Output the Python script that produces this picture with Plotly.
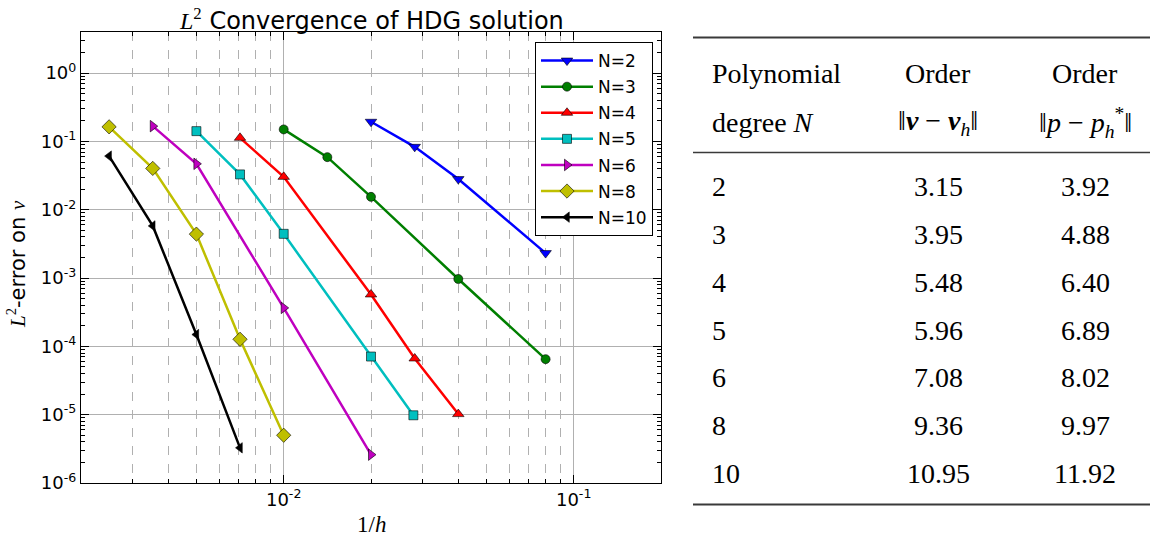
import math
import plotly.graph_objects as go

# ---------------- data ----------------
labels = ["N=2", "N=3", "N=4", "N=5", "N=6", "N=8", "N=10"]
x_N2 = [0.02, 0.0283, 0.04, 0.08]
y_N2 = [0.194, 0.0834, 0.0281, 0.00232]
x_N3 = [0.01, 0.01414, 0.02, 0.04, 0.08]
y_N3 = [0.150, 0.0589, 0.01545, 0.00097, 6.5e-5]
x_N4 = [0.00707, 0.01, 0.02, 0.0283, 0.04]
y_N4 = [0.113, 0.0303, 5.75e-4, 6.65e-5, 1.02e-5]
x_N5 = [0.005, 0.00707, 0.01, 0.02, 0.028]
y_N5 = [0.1415, 0.0329, 0.00444, 7.1e-5, 9.8e-6]
x_N6 = [0.003536, 0.005, 0.01, 0.02]
y_N6 = [0.1675, 0.047, 3.66e-4, 2.6e-6]
x_N8 = [0.0025, 0.003536, 0.005, 0.00707, 0.01]
y_N8 = [0.1636, 0.0403, 0.0044, 1.27e-4, 5.0e-6]
x_N10 = [0.0025, 0.003536, 0.005, 0.00707]
y_N10 = [0.061, 0.0058, 1.49e-4, 3.27e-6]

table_degree = ["2", "3", "4", "5", "6", "8", "10"]
table_order_v = ["3.15", "3.95", "5.48", "5.96", "7.08", "9.36", "10.95"]
table_order_p = ["3.92", "4.88", "6.40", "6.89", "8.02", "9.97", "11.92"]

x_ticks = [0.01, 0.1]
x_ticktext = ["10<sup>-2</sup>", "10<sup>-1</sup>"]
y_ticks = [1, 0.1, 0.01, 0.001, 1e-4, 1e-5, 1e-6]
y_ticktext = ["10<sup>0</sup>", "10<sup>-1</sup>", "10<sup>-2</sup>", "10<sup>-3</sup>",
              "10<sup>-4</sup>", "10<sup>-5</sup>", "10<sup>-6</sup>"]

# ---------------- styles ----------------
series = [
    (x_N2, y_N2, "#0000ff", "triangle-down", 10),
    (x_N3, y_N3, "#007f00", "circle", 9),
    (x_N4, y_N4, "#ff0000", "triangle-up", 10),
    (x_N5, y_N5, "#00bfbf", "square", 9),
    (x_N6, y_N6, "#bf00bf", "triangle-right", 10),
    (x_N8, y_N8, "#bfbf00", "diamond", 11),
    (x_N10, y_N10, "#000000", "triangle-left", 9),
]

SANS = "DejaVu Sans"
SERIF = "Liberation Serif"

W, H = 1150, 537
PL, PR, PT, PB = 81, 661, 32, 483


def px_x(px):
    return (px - PL) / (PR - PL)


def px_y(py):
    return (PB - py) / (PB - PT)


fig = go.Figure()
for i, (xs, ys, col, sym, sz) in enumerate(series):
    fig.add_trace(go.Scatter(
        x=xs, y=ys, mode="lines+markers", name=labels[i],
        legendgroup=labels[i],
        line=dict(color=col, width=2.5),
        marker=dict(symbol=sym, size=sz, color=col,
                    line=dict(color="#000000", width=0.6)),
    ))

grid_col = "#b0b0b0"
x_minor = [m * 10 ** e for e in (-3, -2, -1) for m in range(2, 10)]
y_minor = [m * 10 ** e for e in range(-6, 1) for m in range(2, 10)]

fig.update_xaxes(
    type="log", range=[math.log10(0.002), math.log10(0.2)],
    tickmode="array", tickvals=x_ticks, ticktext=x_ticktext,
    ticks="inside", ticklen=8, tickcolor="#000000", tickwidth=1,
    showline=True, linecolor="#000000", linewidth=1.2, mirror="allticks",
    showgrid=True, gridcolor=grid_col, gridwidth=1,
    tickfont=dict(family=SANS, size=18, color="#000000"),
    minor=dict(tickmode="array", tickvals=x_minor, ticks="inside", ticklen=4,
               tickcolor="#000000", showgrid=True, gridcolor=grid_col,
               griddash="dash", gridwidth=1),
    zeroline=False,
)
fig.update_yaxes(
    type="log", range=[-6, math.log10(4)],
    tickmode="array", tickvals=y_ticks, ticktext=y_ticktext,
    ticks="inside", ticklen=8, tickcolor="#000000", tickwidth=1,
    showline=True, linecolor="#000000", linewidth=1.2, mirror="allticks",
    showgrid=True, gridcolor=grid_col, gridwidth=1,
    tickfont=dict(family=SANS, size=18, color="#000000"),
    minor=dict(tickmode="array", tickvals=y_minor, ticks="inside", ticklen=4,
               tickcolor="#000000", showgrid=False),
    zeroline=False,
)

ann = []
# title
ann.append(dict(
    x=px_x(371), y=px_y(19), xref="paper", yref="paper", showarrow=False,
    xanchor="center", yanchor="middle",
    text=f"<span style='font-family:{SERIF}'><i>L</i><sup>2</sup></span> Convergence of HDG solution",
    font=dict(family=SANS, size=24, color="#000000")))
# x title
ann.append(dict(
    x=px_x(371), y=px_y(524), xref="paper", yref="paper", showarrow=False,
    xanchor="center", yanchor="middle",
    text="1/<i>h</i>", font=dict(family=SERIF, size=23, color="#000000")))
# y title
ann.append(dict(
    x=px_x(16), y=px_y(264), xref="paper", yref="paper", showarrow=False,
    xanchor="center", yanchor="middle", textangle=-90,
    text=f"<span style='font-family:{SERIF}'><i>L</i><sup>2</sup></span>-error on <span style='font-family:{SERIF}'><i>v</i></span>",
    font=dict(family=SANS, size=21, color="#000000")))

# ---------------- table ----------------
TF = dict(family=SERIF, size=28, color="#000000")
col1_x, col2_x, col3_x = 710, 938, 1085
ann.append(dict(x=px_x(col1_x), y=px_y(73), text="Polynomial", xanchor="left"))
ann.append(dict(x=px_x(col1_x), y=px_y(122), text="degree <i>N</i>", xanchor="left"))
ann.append(dict(x=px_x(col2_x), y=px_y(73), text="Order", xanchor="center"))
ann.append(dict(x=px_x(col3_x), y=px_y(73), text="Order", xanchor="center"))
ann.append(dict(x=px_x(col2_x), y=px_y(122),
                text="‖<b><i>v</i></b> − <b><i>v</i></b><sub><i>h</i></sub>‖", xanchor="center"))
ann.append(dict(x=px_x(col3_x), y=px_y(122),
                text="‖<i>p</i> − <i>p</i><sub><i>h</i></sub><sup>*</sup>‖", xanchor="center"))
row_y0, row_dy = 186.7, 47.8
for i in range(len(table_degree)):
    yy = px_y(row_y0 + i * row_dy)
    ann.append(dict(x=px_x(col1_x), y=yy, text=table_degree[i], xanchor="left"))
    ann.append(dict(x=px_x(col2_x), y=yy, text=table_order_v[i], xanchor="center"))
    ann.append(dict(x=px_x(col3_x), y=yy, text=table_order_p[i], xanchor="center"))

for a in ann[3:]:
    a.update(xref="paper", yref="paper", showarrow=False, yanchor="middle", font=TF)

shapes = []
for (yy, wd) in [(37.5, 2), (152.5, 1.5), (504.5, 2)]:
    shapes.append(dict(type="line", xref="paper", yref="paper",
                       x0=px_x(693), x1=px_x(1150), y0=px_y(yy), y1=px_y(yy),
                       line=dict(color="#3a3a3a", width=wd)))

fig.update_layout(
    width=W, height=H,
    margin=dict(l=PL, r=W - PR, t=PT, b=H - PB, pad=0),
    paper_bgcolor="#ffffff", plot_bgcolor="#ffffff",
    annotations=ann, shapes=shapes,
    showlegend=True,
    legend=dict(
        x=px_x(653), y=px_y(42), xanchor="right", yanchor="top",
        bgcolor="#ffffff", bordercolor="#000000", borderwidth=1,
        font=dict(family=SANS, size=17, color="#000000"),
        tracegroupgap=1, itemwidth=52,
    ),
)

fig.write_html("out.html")
